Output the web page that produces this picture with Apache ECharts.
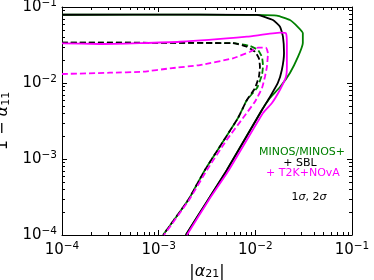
<!DOCTYPE html>
<html><head><meta charset="utf-8">
<script src="https://cdn.jsdelivr.net/npm/echarts@6/dist/echarts.min.js"></script>
<style>html,body{margin:0;padding:0;background:#fff}#c{width:374px;height:280px}</style>
</head><body><div id="c"></div>
<script>
// axis ranges and tick labels
const axisMin = 1e-4;
const axisMax = 1e-1;
const tickExponents = [-4, -3, -2, -1];
const minorMultipliers = [2, 3, 4, 5, 6, 7, 8, 9];

// contour curves: [ |alpha21| , 1 - alpha11 ]
const greenSolid = [
  [1e-4, 0.0791], [0.00267, 0.0792], [0.0104, 0.0786], [0.0167, 0.0768], [0.0228, 0.0674],
  [0.0276, 0.0545], [0.0310, 0.0455], [0.0310, 0.0336], [0.0276, 0.0220], [0.0228, 0.01354],
  [0.0180, 0.00887], [0.01416, 0.00635], [0.0117, 0.00442], [0.00508, 0.000716],
  [0.00324, 0.000289], [0.00191, 1e-4]
];
const blackSolid = [
  [1e-4, 0.0791], [0.00267, 0.0792], [0.0104, 0.0786], [0.0152, 0.0674], [0.0180, 0.0551],
  [0.0193, 0.0407], [0.0198, 0.0248], [0.0188, 0.01482], [0.0171, 0.01001], [0.01416, 0.00655],
  [0.0117, 0.00442], [0.00508, 0.000716], [0.00324, 0.000289], [0.00191, 1e-4]
];
const magentaSolid = [
  [1e-4, 0.0333], [0.000247, 0.0326], [0.00166, 0.0349], [0.00818, 0.0407], [0.0180, 0.0459],
  [0.0207, 0.0450], [0.0212, 0.0336], [0.0212, 0.01624], [0.0207, 0.01199], [0.0180, 0.00815],
  [0.01486, 0.00546], [0.0120, 0.00403], [0.00533, 0.000716], [0.00330, 0.000289], [0.00196, 1e-4]
];
const greenDashed = [
  [1e-4, 0.0339], [0.00586, 0.0334], [0.00879, 0.0307], [0.01064, 0.0272], [0.0117, 0.0220],
  [0.0120, 0.01673], [0.0117, 0.01273], [0.0104, 0.00860], [0.00818, 0.00597], [0.00661, 0.00346],
  [0.00301, 0.000716], [0.00202, 0.000289], [0.00111, 1e-4]
];
const blackDashed = [
  [1e-4, 0.0339], [0.00586, 0.0334], [0.00818, 0.0300], [0.00990, 0.0258], [0.01089, 0.0211],
  [0.01116, 0.01638], [0.01089, 0.01210], [0.00990, 0.00852], [0.00818, 0.00597], [0.00661, 0.00346],
  [0.00301, 0.000716], [0.00202, 0.000289], [0.00111, 1e-4]
];
const magentaDashed = [
  [1e-4, 0.01313], [0.000313, 0.01366], [0.000689, 0.01408], [0.00131, 0.01559], [0.00267, 0.01723],
  [0.00586, 0.0211], [0.00879, 0.0258], [0.01064, 0.0292], [0.01288, 0.0292], [0.01350, 0.0246],
  [0.01318, 0.01638], [0.01257, 0.01210], [0.0117, 0.00852], [0.0099, 0.00568], [0.00745, 0.00346],
  [0.00505, 0.00178], [0.00316, 0.000716], [0.00206, 0.000289], [0.001135, 1e-4]
];

const GREEN = '#008000', MAGENTA = '#ff00ff', BLACK = '#000000';
const FONT = 'DejaVu Sans';

// minor tick values (2..9 x each decade)
const minorTicks = [];
tickExponents.slice(0, -1).forEach(function (e) {
  minorMultipliers.forEach(function (m) { minorTicks.push(m * Math.pow(10, e)); });
});

const labelRich = {
  b: { fontFamily: FONT, fontSize: 15, color: '#000' },
  s: { fontFamily: FONT, fontSize: 10.5, color: '#000', verticalAlign: 'top', padding: [0, 0, 8, 0] }
};
function powLabel(v) {
  const e = Math.round(Math.log10(v));
  if (tickExponents.indexOf(e) < 0) return '';
  return '{b|10}{s|\u2212' + (-e) + '}';
}

function baseAxis(pos, showLabel) {
  return {
    type: 'log', logBase: 10, min: axisMin, max: axisMax, position: pos,
    axisLine: { show: true, onZero: false, lineStyle: { color: '#000', width: 1 } },
    axisTick: { show: true, inside: true, length: 5, lineStyle: { color: '#000', width: 1 } },
    splitLine: { show: false },
    axisLabel: { show: showLabel, formatter: powLabel, rich: labelRich, margin: 6 }
  };
}

const xMain = baseAxis('bottom', true);
xMain.name = '|{i|\u03b1}{sub|21}|';
xMain.nameLocation = 'middle';
xMain.nameGap = 28;
xMain.nameTextStyle = {
  fontFamily: FONT, fontSize: 16, color: '#000',
  rich: {
    i: { fontFamily: FONT, fontSize: 16, fontStyle: 'italic', color: '#000' },
    sub: { fontFamily: FONT, fontSize: 11, color: '#000', verticalAlign: 'bottom', padding: [6, 0, 0, 0] }
  }
};
const yMain = baseAxis('left', true);
yMain.axisLabel.margin = 5;
yMain.name = '1 \u2212 {i|\u03b1}{sub|11}';
yMain.nameLocation = 'middle';
yMain.nameGap = 42;
yMain.nameTextStyle = xMain.nameTextStyle;

const chart = echarts.init(document.getElementById('c'), null, { renderer: 'canvas' });

function lineSeries(data, color, dashed) {
  return {
    type: 'line', data: data, showSymbol: false, symbol: 'none', smooth: 0.15,
    clip: true,
    lineStyle: { color: color, width: 1.8, type: dashed ? [6, 3] : 'solid' }
  };
}

const TICK_LEN = 3;
function crisp(v) { return Math.round(v) + 0.5; }
function minorTickSeries(isX, atMin) {
  const edge = atMin ? axisMin : axisMax;
  const dir = atMin ? -1 : 1;
  return {
    type: 'custom', clip: false,
    data: minorTicks.map(function (v) { return isX ? [v, edge] : [edge, v]; }),
    renderItem: function (params, api) {
      const p = api.coord([api.value(0), api.value(1)]);
      if (isX) {
        const x = crisp(p[0]);
        return { type: 'line', shape: { x1: x, y1: p[1], x2: x, y2: p[1] + dir * TICK_LEN },
          style: { stroke: '#000', lineWidth: 1 } };
      }
      const y = crisp(p[1]);
      return { type: 'line', shape: { x1: p[0], y1: y, x2: p[0] - dir * TICK_LEN, y2: y },
        style: { stroke: '#000', lineWidth: 1 } };
    }
  };
}

chart.setOption({
  animation: false,
  backgroundColor: '#fff',
  grid: { left: 62, right: 22, top: 7, bottom: 45, containLabel: false, outerBoundsMode: 'none' },
  xAxis: [xMain, baseAxis('top', false)],
  yAxis: [yMain, baseAxis('right', false)],
  series: [
    minorTickSeries(true, true),
    minorTickSeries(true, false),
    minorTickSeries(false, true),
    minorTickSeries(false, false),
    lineSeries(greenSolid, GREEN, false),
    lineSeries(greenDashed, GREEN, true),
    lineSeries(blackSolid, BLACK, false),
    lineSeries(blackDashed, BLACK, true),
    lineSeries(magentaSolid, MAGENTA, false),
    lineSeries(magentaDashed, MAGENTA, true)
  ],
  graphic: [
    { type: 'text', x: 302, y: 152, style: { text: 'MINOS/MINOS+', fill: GREEN, font: '11px "DejaVu Sans"', textAlign: 'center', textVerticalAlign: 'middle' } },
    { type: 'text', x: 300, y: 163, style: { text: '+ SBL', fill: BLACK, font: '11px "DejaVu Sans"', textAlign: 'center', textVerticalAlign: 'middle' } },
    { type: 'text', x: 303, y: 173.5, style: { text: '+ T2K+NOvA', fill: MAGENTA, font: '11px "DejaVu Sans"', textAlign: 'center', textVerticalAlign: 'middle' } },
    { type: 'text', x: 309, y: 197, style: { text: '{n|1}{i|\u03c3}{n|, 2}{i|\u03c3}', textAlign: 'center', textVerticalAlign: 'middle',
        rich: { n: { fontFamily: FONT, fontSize: 11, fill: '#000' }, i: { fontFamily: FONT, fontSize: 11, fontStyle: 'italic', fill: '#000' } } } }
  ]
});
</script>
</body></html>
